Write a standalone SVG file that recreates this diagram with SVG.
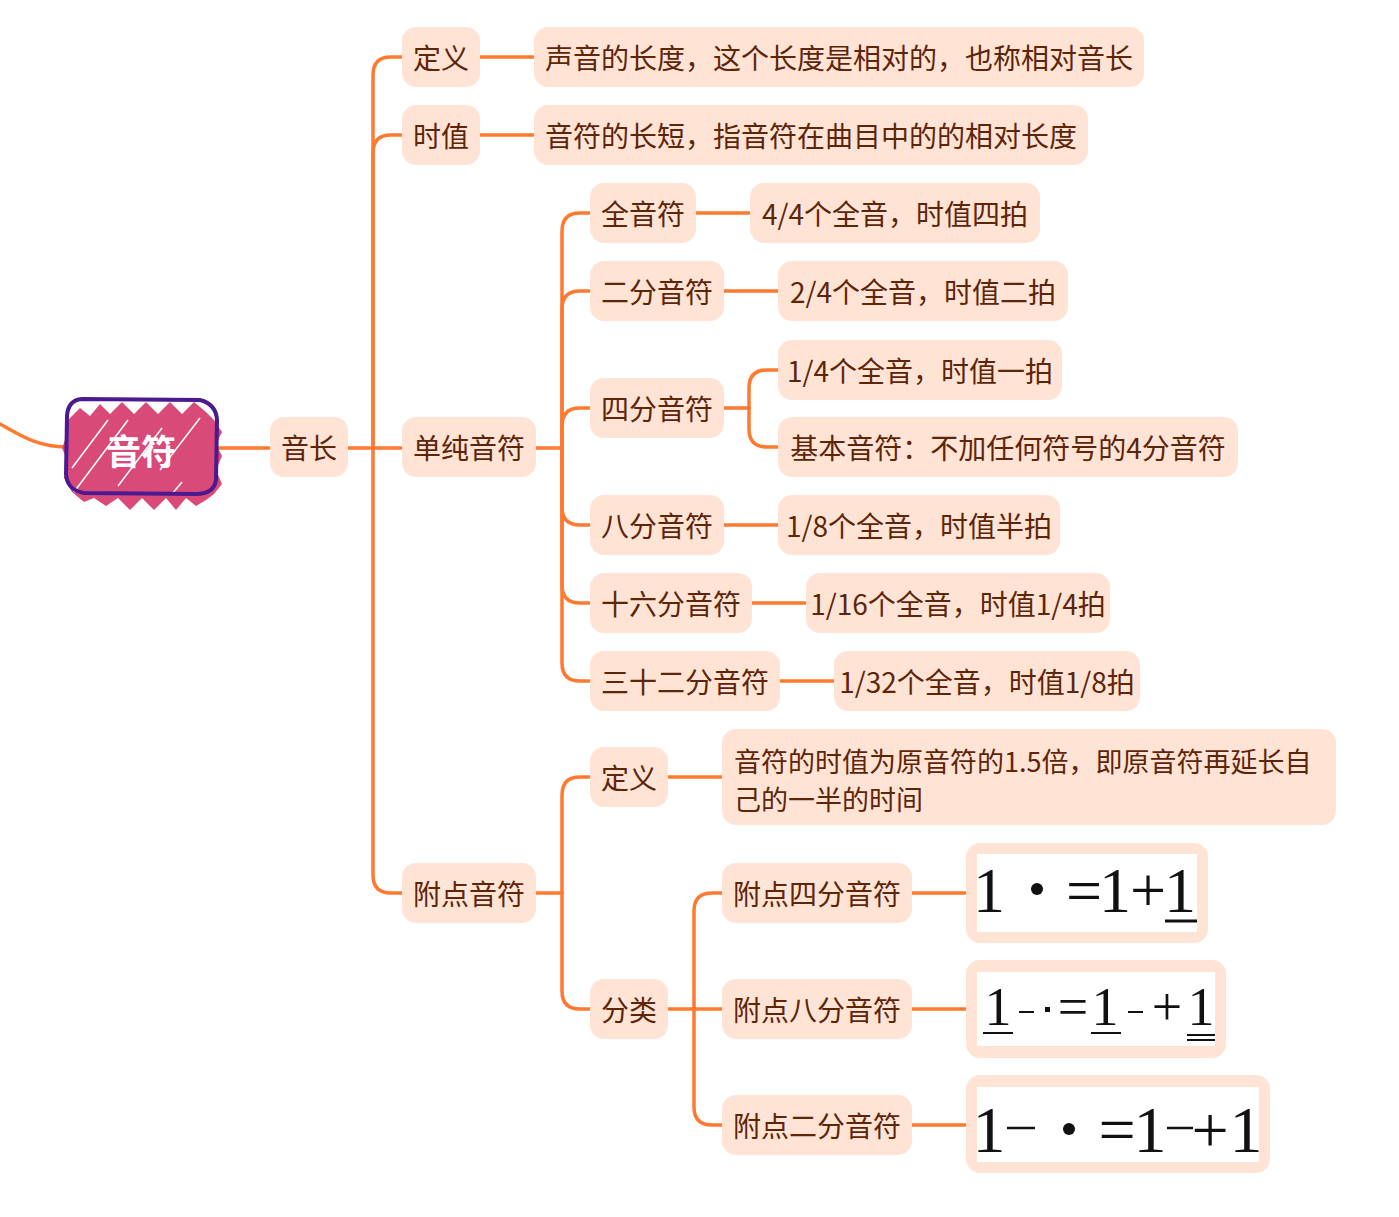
<svg xmlns="http://www.w3.org/2000/svg" width="1399" height="1217" viewBox="0 0 1399 1217">
<style>
.n rect{fill:#FFE4D6;}
.n text{font-family:"Noto Sans CJK SC","Noto Sans",sans-serif;font-size:28px;fill:#5E2508;text-anchor:middle;dominant-baseline:central;}
.c path{fill:none;stroke:#FF7A30;stroke-width:3.5;stroke-linecap:round;}
.f text{font-family:"Liberation Serif",serif;fill:#111;text-anchor:middle;}
.f line{stroke:#111;}
</style>
<rect width="1399" height="1217" fill="#fff"/>
<g class="c" id="connectors">
<path d="M0,424 C22,436 38,447 66,447"/>
<path d="M216,448 H270"/>
<path d="M348,448 H402"/>
<path d="M373,448 V75 Q373,57 391,57 H402"/>
<path d="M373,448 V153 Q373,135 391,135 H402"/>
<path d="M373,448 V875 Q373,893 391,893 H402"/>
<path d="M480,57 H534"/>
<path d="M480,135 H534"/>
<path d="M536,448 H562"/>
<path d="M562,448 V231 Q562,213 580,213 H590"/>
<path d="M562,448 V309 Q562,291 580,291 H590"/>
<path d="M562,448 V426 Q562,408 580,408 H590"/>
<path d="M562,448 V507 Q562,525 580,525 H590"/>
<path d="M562,448 V585 Q562,603 580,603 H590"/>
<path d="M562,448 V663 Q562,681 580,681 H590"/>
<path d="M696,213 H750"/>
<path d="M724,291 H778"/>
<path d="M724,408 H749"/>
<path d="M749,408 V388 Q749,370 767,370 H778"/>
<path d="M749,408 V429 Q749,447 767,447 H778"/>
<path d="M724,525 H778"/>
<path d="M752,603 H806"/>
<path d="M780,681 H834"/>
<path d="M536,893 H562"/>
<path d="M562,893 V795 Q562,777 580,777 H590"/>
<path d="M562,893 V991 Q562,1009 580,1009 H590"/>
<path d="M668,777 H722"/>
<path d="M668,1009 H722"/>
<path d="M694,1009 V911 Q694,893 712,893 H722"/>
<path d="M694,1009 V1107 Q694,1125 712,1125 H722"/>
<path d="M912,893 H966"/>
<path d="M912,1009 H966"/>
<path d="M912,1125 H966"/>
</g>
<g id="root">
<polygon fill="#D94A78" points="68,420 80,408 90,416 100,404 110,414 122,402 134,414 146,402 158,414 170,402 182,414 194,402 206,412 214,420 222,432 216,444 222,456 216,470 222,484 214,494 206,500 196,506 186,498 176,510 166,498 154,510 142,498 130,510 118,498 106,506 94,498 84,502 72,492 64,478 68,462 62,448 68,432"/>
<g stroke="#fff" stroke-width="1.5" fill="none">
<line x1="72" y1="468" x2="108" y2="420"/>
<line x1="74" y1="492" x2="128" y2="420"/>
<line x1="118" y1="486" x2="162" y2="428"/>
<line x1="160" y1="470" x2="200" y2="418"/>
<line x1="172" y1="494" x2="182" y2="482"/>
</g>
<path d="M82,399 L200,400 Q216,404 217,420 L216,480 Q214,494 196,494 L84,493 Q67,490 66,474 L67,416 Q68,400 82,399 Z" fill="none" stroke="#4B1A8E" stroke-width="4" stroke-linejoin="round"/>
<text x="141" y="449" font-family="'Noto Sans CJK SC',sans-serif" font-size="35" font-weight="bold" fill="#fff" text-anchor="middle" dominant-baseline="central">音符</text>
</g>
<g class="n" id="n-yinchang"><rect x="270" y="417" width="78" height="60" rx="14"/><text x="309" y="447">音长</text></g>
<g class="n" id="n-dingyi"><rect x="402" y="27" width="78" height="60" rx="14"/><text x="441" y="57">定义</text></g>
<g class="n" id="n-shizhi"><rect x="402" y="105" width="78" height="60" rx="14"/><text x="441" y="135">时值</text></g>
<g class="n" id="n-danchun"><rect x="402" y="417" width="134" height="60" rx="14"/><text x="469" y="447">单纯音符</text></g>
<g class="n" id="n-fudian"><rect x="402" y="863" width="134" height="60" rx="14"/><text x="469" y="893">附点音符</text></g>
<g class="n" id="n-dingyi-desc"><rect x="534" y="27" width="610" height="60" rx="14"/><text x="839" y="57">声音的长度，这个长度是相对的，也称相对音长</text></g>
<g class="n" id="n-shizhi-desc"><rect x="534" y="105" width="554" height="60" rx="14"/><text x="811" y="135">音符的长短，指音符在曲目中的的相对长度</text></g>
<g class="n" id="n-quan"><rect x="590" y="183" width="106" height="60" rx="14"/><text x="643" y="213">全音符</text></g>
<g class="n" id="n-erfen"><rect x="590" y="261" width="134" height="60" rx="14"/><text x="657" y="291">二分音符</text></g>
<g class="n" id="n-sifen"><rect x="590" y="378" width="134" height="60" rx="14"/><text x="657" y="408">四分音符</text></g>
<g class="n" id="n-bafen"><rect x="590" y="495" width="134" height="60" rx="14"/><text x="657" y="525">八分音符</text></g>
<g class="n" id="n-shiliu"><rect x="590" y="573" width="162" height="60" rx="14"/><text x="671" y="603">十六分音符</text></g>
<g class="n" id="n-sanshier"><rect x="590" y="651" width="190" height="60" rx="14"/><text x="685" y="681">三十二分音符</text></g>
<g class="n" id="n-quan-d"><rect x="750" y="183" width="290" height="60" rx="14"/><text x="895" y="213">4/4个全音，时值四拍</text></g>
<g class="n" id="n-erfen-d"><rect x="778" y="261" width="290" height="60" rx="14"/><text x="923" y="291">2/4个全音，时值二拍</text></g>
<g class="n" id="n-sifen-d1"><rect x="778" y="340" width="284" height="60" rx="14"/><text x="920" y="370">1/4个全音，时值一拍</text></g>
<g class="n" id="n-sifen-d2"><rect x="778" y="417" width="460" height="60" rx="14"/><text x="1008" y="447">基本音符：不加任何符号的4分音符</text></g>
<g class="n" id="n-bafen-d"><rect x="778" y="495" width="282" height="60" rx="14"/><text x="919" y="525">1/8个全音，时值半拍</text></g>
<g class="n" id="n-shiliu-d"><rect x="806" y="573" width="304" height="60" rx="14"/><text x="958" y="603">1/16个全音，时值1/4拍</text></g>
<g class="n" id="n-sanshier-d"><rect x="834" y="651" width="306" height="60" rx="14"/><text x="987" y="681">1/32个全音，时值1/8拍</text></g>
<g class="n" id="n-fd-dingyi"><rect x="590" y="747" width="78" height="60" rx="14"/><text x="629" y="777">定义</text></g>
<g class="n" id="n-fd-fenlei"><rect x="590" y="979" width="78" height="60" rx="14"/><text x="629" y="1009">分类</text></g>
<g class="n" id="n-fd-dingyi-d"><rect x="722" y="729" width="614" height="96" rx="14"/><text x="734" y="760" style="text-anchor:start;font-size:27px">音符的时值为原音符的1.5倍，即原音符再延长自</text><text x="734" y="798" style="text-anchor:start;font-size:27px">己的一半的时间</text></g>
<g class="n" id="n-fd-sifen"><rect x="722" y="863" width="190" height="60" rx="14"/><text x="817" y="893">附点四分音符</text></g>
<g class="n" id="n-fd-bafen"><rect x="722" y="979" width="190" height="60" rx="14"/><text x="817" y="1009">附点八分音符</text></g>
<g class="n" id="n-fd-erfen"><rect x="722" y="1095" width="190" height="60" rx="14"/><text x="817" y="1125">附点二分音符</text></g>
<g class="f" id="img1">
<rect x="966" y="843" width="242" height="100" rx="14" fill="#FFE4D6"/>
<rect x="977" y="854" width="220" height="78" fill="#fff"/>
<text x="989" y="912" font-size="64">1</text>
<circle cx="1037" cy="889" r="6" fill="#111"/>
<text x="1084" y="912" font-size="64">=</text>
<text x="1115" y="912" font-size="64">1</text>
<text x="1148" y="912" font-size="64">+</text>
<text x="1180" y="912" font-size="64">1</text>
<line x1="1165" y1="921" x2="1197" y2="921" stroke-width="3"/>
</g>
<g class="f" id="img2">
<rect x="966" y="960" width="260" height="98" rx="14" fill="#FFE4D6"/>
<rect x="977" y="972" width="238" height="74" fill="#fff"/>
<text x="998" y="1025" font-size="54">1</text>
<line x1="983" y1="1033" x2="1013" y2="1033" stroke-width="2"/>
<line x1="1019" y1="1012" x2="1034" y2="1012" stroke-width="2"/>
<rect x="1045" y="1007" width="5" height="5" fill="#111"/>
<text x="1073" y="1025" font-size="54">=</text>
<text x="1105" y="1025" font-size="54">1</text>
<line x1="1091" y1="1033" x2="1121" y2="1033" stroke-width="2"/>
<line x1="1128" y1="1012" x2="1143" y2="1012" stroke-width="2"/>
<text x="1167" y="1025" font-size="54">+</text>
<text x="1201" y="1025" font-size="54">1</text>
<line x1="1187" y1="1035" x2="1215" y2="1035" stroke-width="2"/>
<line x1="1187" y1="1040" x2="1215" y2="1040" stroke-width="2"/>
</g>
<g class="f" id="img3">
<rect x="966" y="1075" width="304" height="98" rx="14" fill="#FFE4D6"/>
<rect x="977" y="1087" width="282" height="75" fill="#fff"/>
<text x="989" y="1152" font-size="66">1</text>
<line x1="1007" y1="1128" x2="1035" y2="1128" stroke-width="2.5"/>
<circle cx="1069" cy="1129" r="6" fill="#111"/>
<text x="1117" y="1152" font-size="66">=</text>
<text x="1150" y="1152" font-size="66">1</text>
<line x1="1167" y1="1128" x2="1193" y2="1128" stroke-width="2.5"/>
<text x="1210" y="1152" font-size="66">+</text>
<text x="1246" y="1152" font-size="66">1</text>
</g>
</svg>
